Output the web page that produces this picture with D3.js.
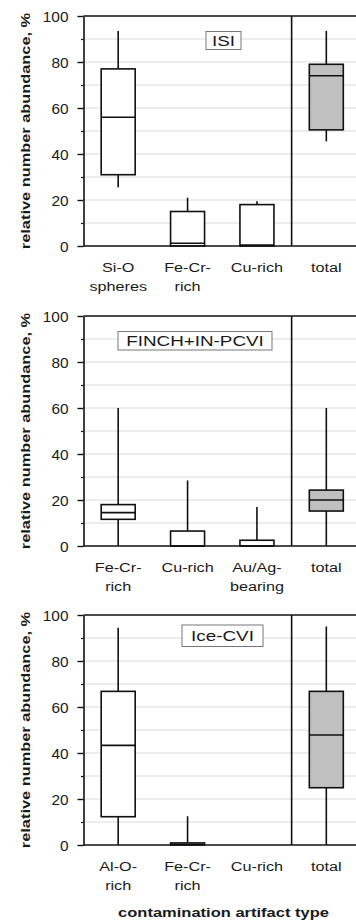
<!DOCTYPE html>
<html>
<head>
<meta charset="utf-8">
<script src="https://cdn.jsdelivr.net/npm/d3@7"></script>
<style>
  body { margin: 0; background: #fff; }
  text { font-family: "Liberation Sans", Arial, sans-serif; fill: #1a1a1a; }
</style>
</head>
<body>
<div id="chart"></div>
<script>
// box stats: [whisker low, q1, median, q3, whisker high]
var isiCats = ["Si-O|spheres", "Fe-Cr-|rich", "Cu-rich", "total"];
var isiStats = [
  [25.5, 31, 56, 77, 93.5],
  [0, 0, 1.2, 15, 21],
  [0, 0, 0.4, 18, 19.5],
  [45.5, 50.5, 74, 79, 93.5]
];

var finchCats = ["Fe-Cr-|rich", "Cu-rich", "Au/Ag-|bearing", "total"];
var finchStats = [
  [0, 11.6, 14.5, 18, 60],
  [0, 0, 0, 6.5, 28.5],
  [0, 0, 0, 2.5, 17],
  [0, 15.2, 20, 24.3, 60]
];

var iceCats = ["Al-O-|rich", "Fe-Cr-|rich", "Cu-rich", "total"];
var iceStats = [
  [0, 12.3, 43.3, 66.8, 94.5],
  [0, 0, 0.3, 0.9, 12.5],
  null,
  [0, 24.9, 47.8, 66.8, 95]
];

var majorTicks = [0, 20, 40, 60, 80, 100];
var minorTicks = [10, 30, 50, 70, 90];
var gridTicks = [10, 20, 30, 40, 50, 60, 70, 80, 90];

var width = 356, height = 920;

var svg = d3.select("#chart").append("svg")
    .attr("width", width)
    .attr("height", height);

var panels = [
  { title: "ISI", cats: isiCats, stats: isiStats, top: 16, box: [206, 31.5, 35, 18] },
  { title: "FINCH+IN-PCVI", cats: finchCats, stats: finchStats, top: 316, box: [118, 331.5, 154, 18.5] },
  { title: "Ice-CVI", cats: iceCats, stats: iceStats, top: 615, box: [182, 625, 81, 21.5] }
];

var left = 83.5, right = 361, plotH = 230;

panels.forEach(function(p) {
  var g = svg.append("g").attr("transform", "translate(0," + p.top + ")");

  var x = d3.scaleBand().domain(d3.range(p.cats.length)).range([left, right]);
  var y = d3.scaleLinear().domain([0, 100]).range([plotH, 0]);
  var bw = x.bandwidth() * 0.49;

  // gridlines
  g.selectAll("line.grid")
    .data(gridTicks)
    .enter().append("line")
      .attr("class", "grid")
      .attr("x1", left).attr("x2", width)
      .attr("y1", function(d) { return y(d); })
      .attr("y2", function(d) { return y(d); })
      .style("stroke", "#dadada")
      .style("stroke-width", 1);

  // whiskers
  var boxes = g.selectAll("g.box")
    .data(p.stats.map(function(s, i) { return { s: s, i: i }; }).filter(function(d) { return d.s; }))
    .enter().append("g")
      .attr("class", "box");

  boxes.append("line")
      .attr("x1", function(d) { return x(d.i) + x.bandwidth() / 2; })
      .attr("x2", function(d) { return x(d.i) + x.bandwidth() / 2; })
      .attr("y1", function(d) { return y(d.s[3]); })
      .attr("y2", function(d) { return y(d.s[4]); })
      .style("stroke", "#111").style("stroke-width", 1.6);

  boxes.append("line")
      .attr("x1", function(d) { return x(d.i) + x.bandwidth() / 2; })
      .attr("x2", function(d) { return x(d.i) + x.bandwidth() / 2; })
      .attr("y1", function(d) { return y(d.s[0]); })
      .attr("y2", function(d) { return y(d.s[1]); })
      .style("stroke", "#111").style("stroke-width", 1.6);

  boxes.append("rect")
      .attr("x", function(d) { return x(d.i) + (x.bandwidth() - bw) / 2; })
      .attr("width", bw)
      .attr("y", function(d) { return y(d.s[3]); })
      .attr("height", function(d) { return y(d.s[1]) - y(d.s[3]); })
      .style("fill", function(d) { return d.i == 3 ? "#c0c0c0" : "#fff"; })
      .style("stroke", "#111").style("stroke-width", 1.6);

  boxes.append("line")
      .attr("x1", function(d) { return x(d.i) + (x.bandwidth() - bw) / 2; })
      .attr("x2", function(d) { return x(d.i) + (x.bandwidth() + bw) / 2; })
      .attr("y1", function(d) { return y(d.s[2]); })
      .attr("y2", function(d) { return y(d.s[2]); })
      .style("stroke", "#111").style("stroke-width", 1.6);

  // frame: top line, bottom line and separator before "total"
  g.append("line")
    .attr("x1", left).attr("x2", width)
    .attr("y1", y(100)).attr("y2", y(100))
    .style("stroke", "#111").style("stroke-width", 1.6);
  g.append("line")
    .attr("x1", left).attr("x2", width)
    .attr("y1", y(0)).attr("y2", y(0))
    .style("stroke", "#111").style("stroke-width", 1.6);
  g.append("line")
    .attr("x1", x(3)).attr("x2", x(3))
    .attr("y1", y(0)).attr("y2", y(100))
    .style("stroke", "#111").style("stroke-width", 1.6);

  // y axis
  var yAxis = g.append("g")
    .attr("transform", "translate(" + left + ",0)")
    .call(d3.axisLeft(y).tickValues(majorTicks).tickSize(6).tickSizeOuter(0).tickPadding(0));
  yAxis.select(".domain").style("stroke", "#111").style("stroke-width", 1.6);
  yAxis.selectAll(".tick line").style("stroke", "#111").style("stroke-width", 1.4);
  yAxis.selectAll(".tick text")
    .attr("x", null).attr("dy", null)
    .attr("transform", "translate(-15,5) scale(1.1,1)")
    .style("font-size", "14px")
    .style("fill", "#1a1a1a");

  var minor = g.append("g")
    .attr("transform", "translate(" + left + ",0)")
    .call(d3.axisLeft(y).tickValues(minorTicks).tickSize(2.5).tickFormat(""));
  minor.select(".domain").remove();
  minor.selectAll(".tick line").style("stroke", "#111").style("stroke-width", 1.2);

  // category labels
  var lab = g.selectAll("g.cat")
    .data(p.cats)
    .enter().append("g")
      .attr("class", "cat")
      .attr("transform", function(d, i) { return "translate(" + (x(i) + x.bandwidth() / 2) + "," + (plotH + 25.5) + ")"; });

  lab.each(function(d) {
    var lines = d.split("|");
    var sel = d3.select(this);
    lines.forEach(function(t, k) {
      sel.append("text")
        .attr("transform", "translate(0," + (k * 19.5) + ") scale(1.2,1)")
        .attr("text-anchor", "middle")
        .style("font-size", "13.5px")
        .text(t);
    });
  });

  // y title
  g.append("text")
    .attr("transform", "translate(29.5," + (plotH / 2) + ") rotate(-90) scale(1.26,1)")
    .attr("text-anchor", "middle")
    .style("font-size", "13px")
    .style("font-weight", "bold")
    .text("relative number abundance, %");

  // panel label box
  var b = p.box;
  svg.append("rect")
    .attr("x", b[0]).attr("y", b[1])
    .attr("width", b[2]).attr("height", b[3])
    .style("fill", "#fff")
    .style("stroke", "#777").style("stroke-width", 1);
  svg.append("text")
    .attr("transform", "translate(" + (b[0] + b[2] / 2) + "," + (b[1] + b[3] / 2 + 5) + ") scale(1.3,1)")
    .attr("text-anchor", "middle")
    .style("font-size", "14.5px")
    .text(p.title);
});

svg.append("text")
  .attr("transform", "translate(223.5,917) scale(1.27,1)")
  .attr("text-anchor", "middle")
  .style("font-size", "13px")
  .style("font-weight", "bold")
  .text("contamination artifact type");
</script>
</body>
</html>
